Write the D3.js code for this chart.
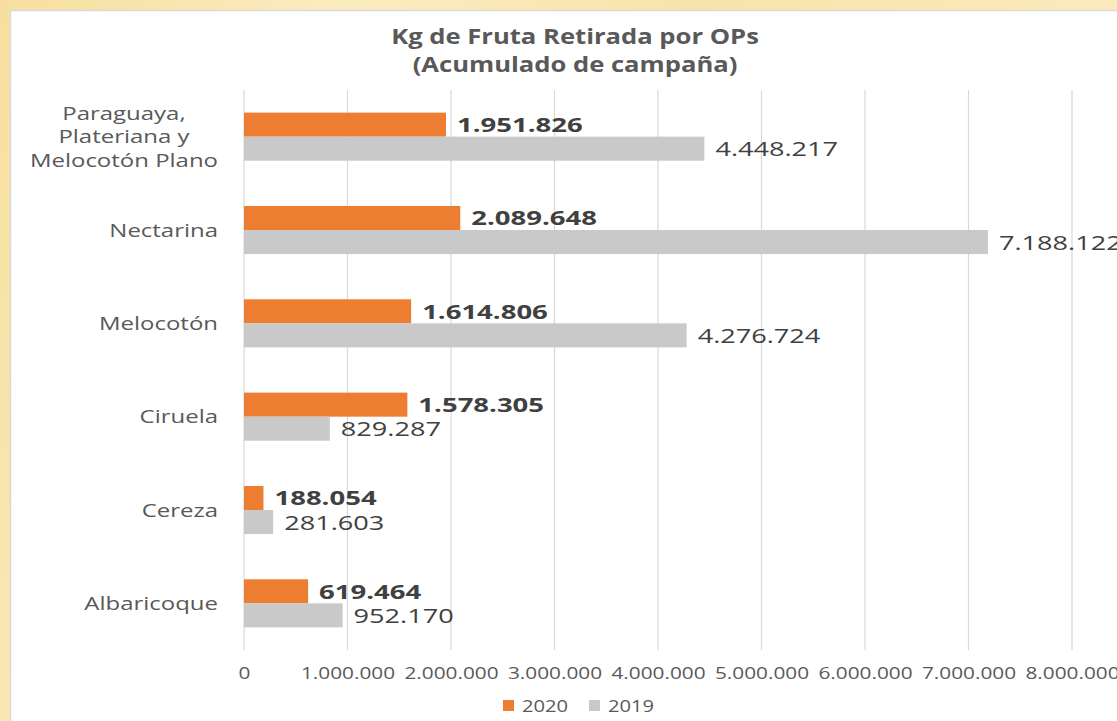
<!DOCTYPE html>
<html>
<head>
<meta charset="utf-8">
<script src="https://cdn.jsdelivr.net/npm/d3@7"></script>
<style>
  html, body { margin: 0; padding: 0; background: #f9e7b2; }
  svg { display: block; }
  text { font-family: "Open Sans", sans-serif; }
</style>
</head>
<body>
<svg id="chart" width="1117" height="721"></svg>
<script>
// ---- data ----
const categories = ["Paraguaya, Plateriana y Melocotón Plano", "Nectarina", "Melocotón", "Ciruela", "Cereza", "Albaricoque"];
const categoryLines = [["Paraguaya,", "Plateriana y", "Melocotón Plano"], ["Nectarina"], ["Melocotón"], ["Ciruela"], ["Cereza"], ["Albaricoque"]];
const seriesNames = ["2020", "2019"];
const values2020 = [1951826, 2089648, 1614806, 1578305, 188054, 619464];
const values2019 = [4448217, 7188122, 4276724, 829287, 281603, 952170];
const xTicks = [0, 1000000, 2000000, 3000000, 4000000, 5000000, 6000000, 7000000, 8000000];
const titleLines = ["Kg de Fruta Retirada por OPs", "(Acumulado de campaña)"];

const colors = { "2020": "#ED7D31", "2019": "#C9C9C9" };

const locale = d3.formatLocale({ decimal: ",", thousands: ".", grouping: [3], currency: ["", " €"] });
const fmt = locale.format(",d");

const svg = d3.select("#chart");

// background texture + white chart area
const defs = svg.append("defs");
const grad = defs.append("linearGradient").attr("id", "bg").attr("x1", 0).attr("x2", 1).attr("y1", 0).attr("y2", 0.2);
grad.append("stop").attr("offset", "0%").attr("stop-color", "#f6df9e");
grad.append("stop").attr("offset", "30%").attr("stop-color", "#fbecc0");
grad.append("stop").attr("offset", "60%").attr("stop-color", "#f8e4aa");
grad.append("stop").attr("offset", "100%").attr("stop-color", "#fbebbd");
svg.append("rect").attr("width", 1117).attr("height", 721).attr("fill", "url(#bg)");
svg.append("rect").attr("x", 10.5).attr("y", 10.5).attr("width", 1120).attr("height", 720)
  .attr("fill", "#ffffff").attr("stroke", "#d9d9d9").attr("stroke-width", 1.5);

// scales
const x = d3.scaleLinear().domain([0, 8000000]).range([244, 1072]);
const y = d3.scaleBand().domain(categories).range([90, 650]).paddingInner(0.485).paddingOuter(0.2425);
const ySub = d3.scaleBand().domain(seriesNames).range([0, y.bandwidth()]);

function stretchedText(g, tx, ty, str, opts) {
  const t = g.append("text")
    .attr("transform", `translate(${tx},${ty}) scale(${opts.sx},1)`)
    .attr("text-anchor", opts.anchor || "start")
    .attr("font-size", opts.size)
    .attr("font-weight", opts.weight || "normal")
    .attr("fill", opts.fill || "#595959")
    .text(str);
  return t;
}

// gridlines
const grid = svg.append("g");
grid.selectAll("line").data(xTicks).join("line")
  .attr("x1", d => x(d)).attr("x2", d => x(d))
  .attr("y1", 90).attr("y2", 650)
  .attr("stroke", "#d9d9d9").attr("stroke-width", 1.2);

// x axis labels via d3 axis then restyled
const xAxis = d3.axisBottom(x).tickValues(xTicks).tickFormat(d => fmt(d)).tickSize(0).tickPadding(0);
const axG = svg.append("g").attr("transform", "translate(0,650)").call(xAxis);
axG.select(".domain").remove();
axG.selectAll(".tick text").each(function(d) {
  d3.select(this).attr("y", null).attr("dy", null)
    .attr("transform", `translate(0,29) scale(1.26,1)`)
    .attr("font-size", 16.5)
    .attr("font-family", "Open Sans, sans-serif")
    .attr("fill", "#595959")
    .attr("text-anchor", "middle");
});

// bars
const groups = svg.append("g").selectAll("g").data(categories).join("g")
  .attr("transform", d => `translate(0,${y(d)})`);

const rows = categories.map((c, i) => [
  { cat: c, s: "2020", v: values2020[i] },
  { cat: c, s: "2019", v: values2019[i] }
]);

groups.each(function(c, i) {
  const g = d3.select(this);
  g.selectAll("rect").data(rows[i]).join("rect")
    .attr("x", x(0))
    .attr("y", d => ySub(d.s))
    .attr("width", d => x(d.v) - x(0))
    .attr("height", ySub.bandwidth())
    .attr("fill", d => colors[d.s]);
  rows[i].forEach(d => {
    stretchedText(g, x(d.v) + 11, ySub(d.s) + ySub.bandwidth() / 2 + 7.5, fmt(d.v), {
      size: 19.5,
      weight: d.s === "2020" ? "bold" : "normal",
      fill: "#404040",
      sx: d.s === "2020" ? 1.41 : 1.39
    });
  });
});

// category labels (multi-line labels are centred within a right-aligned block)
const CSX = 1.37;
categoryLines.forEach((lines, i) => {
  const cy = y(categories[i]) + y.bandwidth() / 2;
  const n = lines.length;
  const els = lines.map((ln, j) => {
    const off = (j - (n - 1) / 2) * 23.5;
    return stretchedText(svg, 0, cy + off + 6.5, ln, { size: 17.5, anchor: "middle", fill: "#595959", sx: CSX })
      .attr("data-y", cy + off + 6.5);
  });
  const maxW = d3.max(els, e => e.node().getComputedTextLength()) * CSX;
  const cx = 218 - maxW / 2;
  els.forEach(e => e.attr("transform", `translate(${cx},${e.attr("data-y")}) scale(${CSX},1)`).attr("data-y", null));
});

// title
titleLines.forEach((t, i) => {
  stretchedText(svg, 575, 44 + i * 27.5, t, { size: 20.5, weight: "bold", anchor: "middle", fill: "#595959", sx: 1.25 });
});

// legend
const legendItems = [{ s: "2020", x: 503 }, { s: "2019", x: 589 }];
const lg = svg.append("g");
legendItems.forEach(it => {
  lg.append("rect").attr("x", it.x).attr("y", 700).attr("width", 11).attr("height", 11).attr("fill", colors[it.s]);
  stretchedText(lg, it.x + 19, 711.5, it.s, { size: 16.5, fill: "#595959", sx: 1.22 });
});
</script>
</body>
</html>
